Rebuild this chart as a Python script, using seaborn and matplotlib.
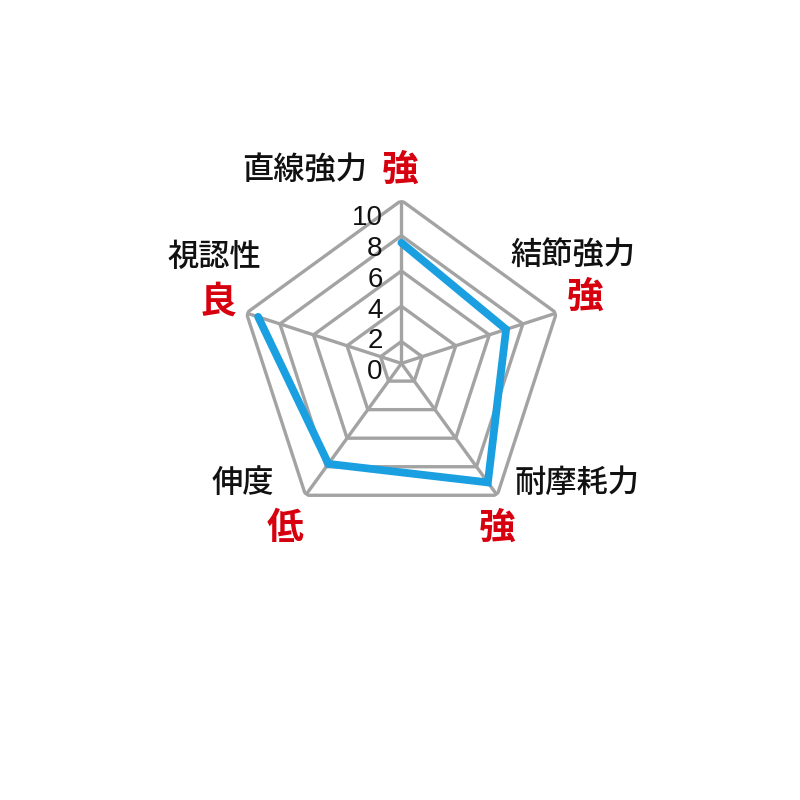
import numpy as np
import pandas as pd
import matplotlib
matplotlib.use("Agg")
import matplotlib.pyplot as plt
import seaborn as sns

# axes clockwise from the top
categories = ["直線強力", "結節強力", "耐摩耗力", "伸度", "視認性"]
grades = ["強", "強", "強", "低", "良"]
values = [7.6, 7.0, 9.1, 7.8, 9.3]
ring_levels = [2, 4, 6, 8, 10]
tick_labels = ["0", "2", "4", "6", "8", "10"]

sns.set_theme(style="white")
plt.rcParams['font.family'] = ['Noto Sans CJK JP', 'DejaVu Sans']

grid_color = "#a3a3a3"
line_color = "#1a9fe0"
red = "#d7000f"

n = len(categories)
angles = np.linspace(0, 2 * np.pi, n, endpoint=False)
closed = np.append(angles, angles[0])

fig = plt.figure(figsize=(8, 8), dpi=100)
ax = fig.add_axes([0.298, 0.342, 0.4075, 0.4075], projection="polar")
ax.set_theta_zero_location("N")
ax.set_theta_direction(-1)
ax.set_ylim(0.76, 10)
ax.grid(False)
ax.spines["polar"].set_visible(False)
ax.set_xticks([])
ax.set_yticks([])
ax.patch.set_alpha(0)

# pentagon rings and spokes
for lvl in ring_levels:
    ax.plot(closed, [lvl] * len(closed), color=grid_color, lw=2.4,
            solid_joinstyle="miter", zorder=1)
for a in angles:
    ax.plot([a, a], [0.76, 10], color=grid_color, lw=2.4, zorder=1)

df = pd.DataFrame({"theta": closed, "value": values + values[:1]})
sns.lineplot(data=df, x="theta", y="value", sort=False, ax=ax,
             color=line_color, lw=5.6, solid_joinstyle="miter", zorder=3)
ax.set_xlabel("")
ax.set_ylabel("")

# radial scale labels to the left of the top spoke
for i, lab in enumerate(tick_labels):
    v = i * 2
    ax.text(0.4426, 0.4733 + 0.0472 * v, lab, transform=ax.transAxes,
            ha="right", va="center", fontsize=20,
            family=["Liberation Sans", "DejaVu Sans"], color="#111111")

# category names and grade words
name_pos = [(305, 170), (573, 256), (577, 483), (243, 483), (214, 257)]
grade_pos = [(400, 170), (585, 297), (497, 528), (285, 528), (218, 302)]
for name, grade, (nx, ny), (gx, gy) in zip(categories, grades, name_pos, grade_pos):
    fig.text(nx / 800, 1 - ny / 800, name, ha="center", va="center",
             fontsize=22.5, fontweight="medium", color="#111111")
    fig.text(gx / 800, 1 - gy / 800, grade, ha="center", va="center",
             fontsize=26.5, fontweight="bold", color=red)

fig.savefig("out.png", dpi=100, facecolor="white")
